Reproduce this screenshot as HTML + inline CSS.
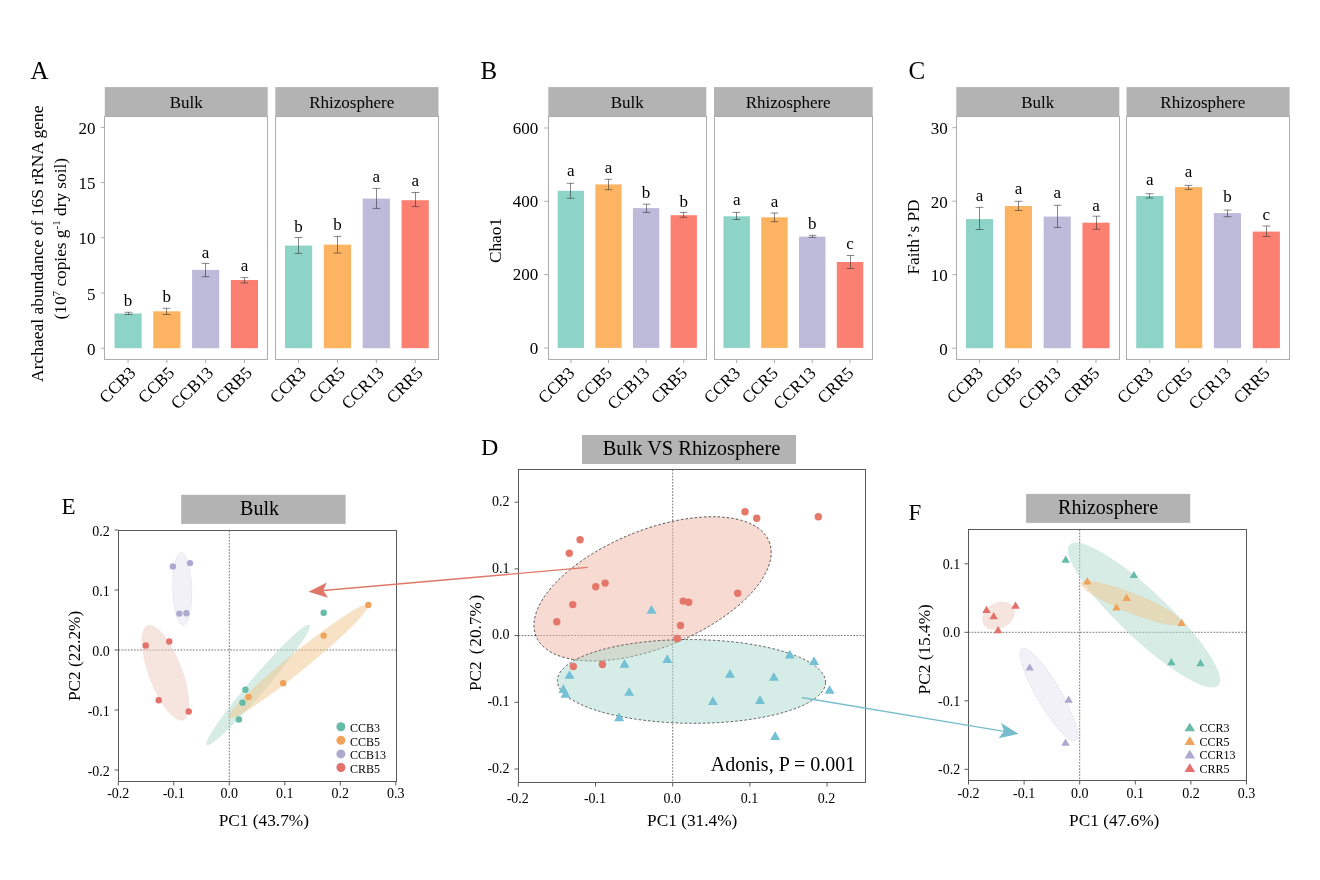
<!DOCTYPE html>
<html><head><meta charset="utf-8"><style>
html,body{margin:0;padding:0;background:#fff;}
svg{display:block;will-change:transform;}
text{font-family:"Liberation Serif",serif;}
</style></head><body>
<svg width="1320" height="880" viewBox="0 0 1320 880">
<rect width="1320" height="880" fill="#fff"/>
<rect x="104.80" y="87.1" width="162.90" height="29.60" fill="#B3B3B3"/>
<text x="186.25" y="107.90" font-size="17" text-anchor="middle" fill="#000" >Bulk</text>
<rect x="104.50" y="116.5" width="163.00" height="243.0" fill="#fff" stroke="#ADADAD" stroke-width="1"/>
<rect x="114.50" y="313.50" width="27.15" height="34.70" fill="#8DD3C7"/>
<path d="M124.62 312.30H132.38M128.50 312.30V314.50M124.62 314.50H132.38" stroke="#2a2a2a" stroke-width="0.8" fill="none" stroke-opacity="0.7"/>
<text x="128.07" y="306.10" font-size="17" text-anchor="middle" fill="#000" >b</text>
<line x1="128.07" y1="359.6" x2="128.07" y2="363.1" stroke="#ADADAD" stroke-width="1"/>
<text x="0" y="0" font-size="17.2" text-anchor="end" transform="translate(136.67,373.80) rotate(-45)">CCB3</text>
<rect x="153.28" y="311.30" width="27.15" height="36.90" fill="#FDB462"/>
<path d="M162.62 308.30H170.38M166.50 308.30V314.50M162.62 314.50H170.38" stroke="#2a2a2a" stroke-width="0.8" fill="none" stroke-opacity="0.7"/>
<text x="166.86" y="302.40" font-size="17" text-anchor="middle" fill="#000" >b</text>
<line x1="166.86" y1="359.6" x2="166.86" y2="363.1" stroke="#ADADAD" stroke-width="1"/>
<text x="0" y="0" font-size="17.2" text-anchor="end" transform="translate(175.46,373.80) rotate(-45)">CCB5</text>
<rect x="192.07" y="269.90" width="27.15" height="78.30" fill="#BEBADA"/>
<path d="M201.62 263.40H209.38M205.50 263.40V276.70M201.62 276.70H209.38" stroke="#2a2a2a" stroke-width="0.8" fill="none" stroke-opacity="0.7"/>
<text x="205.64" y="258.10" font-size="17" text-anchor="middle" fill="#000" >a</text>
<line x1="205.64" y1="359.6" x2="205.64" y2="363.1" stroke="#ADADAD" stroke-width="1"/>
<text x="0" y="0" font-size="17.2" text-anchor="end" transform="translate(214.24,373.80) rotate(-45)">CCB13</text>
<rect x="230.85" y="280.00" width="27.15" height="68.20" fill="#FB8072"/>
<path d="M240.62 277.60H248.38M244.50 277.60V282.90M240.62 282.90H248.38" stroke="#2a2a2a" stroke-width="0.8" fill="none" stroke-opacity="0.7"/>
<text x="244.43" y="270.60" font-size="17" text-anchor="middle" fill="#000" >a</text>
<line x1="244.43" y1="359.6" x2="244.43" y2="363.1" stroke="#ADADAD" stroke-width="1"/>
<text x="0" y="0" font-size="17.2" text-anchor="end" transform="translate(253.03,373.80) rotate(-45)">CRB5</text>
<line x1="100.80" y1="348.20" x2="104.80" y2="348.20" stroke="#ADADAD" stroke-width="1"/>
<text x="95.50" y="354.80" font-size="17" text-anchor="end" fill="#000" >0</text>
<line x1="100.80" y1="293.00" x2="104.80" y2="293.00" stroke="#ADADAD" stroke-width="1"/>
<text x="95.50" y="299.60" font-size="17" text-anchor="end" fill="#000" >5</text>
<line x1="100.80" y1="237.80" x2="104.80" y2="237.80" stroke="#ADADAD" stroke-width="1"/>
<text x="95.50" y="244.40" font-size="17" text-anchor="end" fill="#000" >10</text>
<line x1="100.80" y1="182.60" x2="104.80" y2="182.60" stroke="#ADADAD" stroke-width="1"/>
<text x="95.50" y="189.20" font-size="17" text-anchor="end" fill="#000" >15</text>
<line x1="100.80" y1="127.40" x2="104.80" y2="127.40" stroke="#ADADAD" stroke-width="1"/>
<text x="95.50" y="134.00" font-size="17" text-anchor="end" fill="#000" >20</text>
<rect x="275.30" y="87.1" width="163.20" height="29.60" fill="#B3B3B3"/>
<text x="351.70" y="107.90" font-size="17" text-anchor="middle" fill="#000" >Rhizosphere</text>
<rect x="275.50" y="116.5" width="163.00" height="243.0" fill="#fff" stroke="#ADADAD" stroke-width="1"/>
<rect x="285.01" y="245.60" width="27.20" height="102.60" fill="#8DD3C7"/>
<path d="M294.61 237.50H302.39M298.50 237.50V253.40M294.61 253.40H302.39" stroke="#2a2a2a" stroke-width="0.8" fill="none" stroke-opacity="0.7"/>
<text x="298.61" y="231.60" font-size="17" text-anchor="middle" fill="#000" >b</text>
<line x1="298.61" y1="359.6" x2="298.61" y2="363.1" stroke="#ADADAD" stroke-width="1"/>
<text x="0" y="0" font-size="17.2" text-anchor="end" transform="translate(307.21,373.80) rotate(-45)">CCR3</text>
<rect x="323.87" y="244.60" width="27.20" height="103.60" fill="#FDB462"/>
<path d="M333.61 236.40H341.39M337.50 236.40V253.00M333.61 253.00H341.39" stroke="#2a2a2a" stroke-width="0.8" fill="none" stroke-opacity="0.7"/>
<text x="337.47" y="230.20" font-size="17" text-anchor="middle" fill="#000" >b</text>
<line x1="337.47" y1="359.6" x2="337.47" y2="363.1" stroke="#ADADAD" stroke-width="1"/>
<text x="0" y="0" font-size="17.2" text-anchor="end" transform="translate(346.07,373.80) rotate(-45)">CCR5</text>
<rect x="362.73" y="198.60" width="27.20" height="149.60" fill="#BEBADA"/>
<path d="M372.61 188.40H380.39M376.50 188.40V208.40M372.61 208.40H380.39" stroke="#2a2a2a" stroke-width="0.8" fill="none" stroke-opacity="0.7"/>
<text x="376.33" y="181.80" font-size="17" text-anchor="middle" fill="#000" >a</text>
<line x1="376.33" y1="359.6" x2="376.33" y2="363.1" stroke="#ADADAD" stroke-width="1"/>
<text x="0" y="0" font-size="17.2" text-anchor="end" transform="translate(384.93,373.80) rotate(-45)">CCR13</text>
<rect x="401.59" y="200.20" width="27.20" height="148.00" fill="#FB8072"/>
<path d="M411.61 192.50H419.39M415.50 192.50V206.60M411.61 206.60H419.39" stroke="#2a2a2a" stroke-width="0.8" fill="none" stroke-opacity="0.7"/>
<text x="415.19" y="185.60" font-size="17" text-anchor="middle" fill="#000" >a</text>
<line x1="415.19" y1="359.6" x2="415.19" y2="363.1" stroke="#ADADAD" stroke-width="1"/>
<text x="0" y="0" font-size="17.2" text-anchor="end" transform="translate(423.79,373.80) rotate(-45)">CRR5</text>
<rect x="548.30" y="87.1" width="158.00" height="29.60" fill="#B3B3B3"/>
<text x="627.30" y="107.90" font-size="17" text-anchor="middle" fill="#000" >Bulk</text>
<rect x="548.50" y="116.5" width="158.00" height="243.0" fill="#fff" stroke="#ADADAD" stroke-width="1"/>
<rect x="557.70" y="190.80" width="26.33" height="157.10" fill="#8DD3C7"/>
<path d="M566.74 183.30H574.26M570.50 183.30V198.30M566.74 198.30H574.26" stroke="#2a2a2a" stroke-width="0.8" fill="none" stroke-opacity="0.7"/>
<text x="570.87" y="176.20" font-size="17" text-anchor="middle" fill="#000" >a</text>
<line x1="570.87" y1="359.6" x2="570.87" y2="363.1" stroke="#ADADAD" stroke-width="1"/>
<text x="0" y="0" font-size="17.2" text-anchor="end" transform="translate(575.47,374.10) rotate(-45)">CCB3</text>
<rect x="595.32" y="184.40" width="26.33" height="163.50" fill="#FDB462"/>
<path d="M604.74 179.30H612.26M608.50 179.30V189.70M604.74 189.70H612.26" stroke="#2a2a2a" stroke-width="0.8" fill="none" stroke-opacity="0.7"/>
<text x="608.49" y="172.80" font-size="17" text-anchor="middle" fill="#000" >a</text>
<line x1="608.49" y1="359.6" x2="608.49" y2="363.1" stroke="#ADADAD" stroke-width="1"/>
<text x="0" y="0" font-size="17.2" text-anchor="end" transform="translate(613.09,374.10) rotate(-45)">CCB5</text>
<rect x="632.94" y="208.10" width="26.33" height="139.80" fill="#BEBADA"/>
<path d="M642.74 204.20H650.26M646.50 204.20V212.40M642.74 212.40H650.26" stroke="#2a2a2a" stroke-width="0.8" fill="none" stroke-opacity="0.7"/>
<text x="646.11" y="198.30" font-size="17" text-anchor="middle" fill="#000" >b</text>
<line x1="646.11" y1="359.6" x2="646.11" y2="363.1" stroke="#ADADAD" stroke-width="1"/>
<text x="0" y="0" font-size="17.2" text-anchor="end" transform="translate(650.71,374.10) rotate(-45)">CCB13</text>
<rect x="670.56" y="215.20" width="26.33" height="132.70" fill="#FB8072"/>
<path d="M679.74 212.40H687.26M683.50 212.40V217.30M679.74 217.30H687.26" stroke="#2a2a2a" stroke-width="0.8" fill="none" stroke-opacity="0.7"/>
<text x="683.73" y="207.00" font-size="17" text-anchor="middle" fill="#000" >b</text>
<line x1="683.73" y1="359.6" x2="683.73" y2="363.1" stroke="#ADADAD" stroke-width="1"/>
<text x="0" y="0" font-size="17.2" text-anchor="end" transform="translate(688.33,374.10) rotate(-45)">CRB5</text>
<line x1="544.30" y1="347.90" x2="548.30" y2="347.90" stroke="#ADADAD" stroke-width="1"/>
<text x="538.20" y="353.70" font-size="17" text-anchor="end" fill="#000" >0</text>
<line x1="544.30" y1="274.60" x2="548.30" y2="274.60" stroke="#ADADAD" stroke-width="1"/>
<text x="538.20" y="280.40" font-size="17" text-anchor="end" fill="#000" >200</text>
<line x1="544.30" y1="201.30" x2="548.30" y2="201.30" stroke="#ADADAD" stroke-width="1"/>
<text x="538.20" y="207.10" font-size="17" text-anchor="end" fill="#000" >400</text>
<line x1="544.30" y1="128.00" x2="548.30" y2="128.00" stroke="#ADADAD" stroke-width="1"/>
<text x="538.20" y="133.80" font-size="17" text-anchor="end" fill="#000" >600</text>
<rect x="714.00" y="87.1" width="158.70" height="29.60" fill="#B3B3B3"/>
<text x="788.15" y="107.90" font-size="17" text-anchor="middle" fill="#000" >Rhizosphere</text>
<rect x="714.50" y="116.5" width="158.00" height="243.0" fill="#fff" stroke="#ADADAD" stroke-width="1"/>
<rect x="723.45" y="216.30" width="26.45" height="131.60" fill="#8DD3C7"/>
<path d="M732.72 212.40H740.28M736.50 212.40V219.50M732.72 219.50H740.28" stroke="#2a2a2a" stroke-width="0.8" fill="none" stroke-opacity="0.7"/>
<text x="736.67" y="204.80" font-size="17" text-anchor="middle" fill="#000" >a</text>
<line x1="736.67" y1="359.6" x2="736.67" y2="363.1" stroke="#ADADAD" stroke-width="1"/>
<text x="0" y="0" font-size="17.2" text-anchor="end" transform="translate(741.27,374.10) rotate(-45)">CCR3</text>
<rect x="761.23" y="217.30" width="26.45" height="130.60" fill="#FDB462"/>
<path d="M770.72 213.00H778.28M774.50 213.00V221.70M770.72 221.70H778.28" stroke="#2a2a2a" stroke-width="0.8" fill="none" stroke-opacity="0.7"/>
<text x="774.46" y="207.40" font-size="17" text-anchor="middle" fill="#000" >a</text>
<line x1="774.46" y1="359.6" x2="774.46" y2="363.1" stroke="#ADADAD" stroke-width="1"/>
<text x="0" y="0" font-size="17.2" text-anchor="end" transform="translate(779.06,374.10) rotate(-45)">CCR5</text>
<rect x="799.02" y="236.60" width="26.45" height="111.30" fill="#BEBADA"/>
<path d="M808.72 235.30H816.28M812.50 235.30V237.40M808.72 237.40H816.28" stroke="#2a2a2a" stroke-width="0.8" fill="none" stroke-opacity="0.7"/>
<text x="812.24" y="229.00" font-size="17" text-anchor="middle" fill="#000" >b</text>
<line x1="812.24" y1="359.6" x2="812.24" y2="363.1" stroke="#ADADAD" stroke-width="1"/>
<text x="0" y="0" font-size="17.2" text-anchor="end" transform="translate(816.84,374.10) rotate(-45)">CCR13</text>
<rect x="836.80" y="262.00" width="26.45" height="85.90" fill="#FB8072"/>
<path d="M846.72 255.50H854.28M850.50 255.50V268.50M846.72 268.50H854.28" stroke="#2a2a2a" stroke-width="0.8" fill="none" stroke-opacity="0.7"/>
<text x="850.03" y="248.60" font-size="17" text-anchor="middle" fill="#000" >c</text>
<line x1="850.03" y1="359.6" x2="850.03" y2="363.1" stroke="#ADADAD" stroke-width="1"/>
<text x="0" y="0" font-size="17.2" text-anchor="end" transform="translate(854.63,374.10) rotate(-45)">CRR5</text>
<rect x="956.30" y="87.1" width="163.00" height="29.60" fill="#B3B3B3"/>
<text x="1037.80" y="107.90" font-size="17" text-anchor="middle" fill="#000" >Bulk</text>
<rect x="956.50" y="116.5" width="163.00" height="243.0" fill="#fff" stroke="#ADADAD" stroke-width="1"/>
<rect x="966.00" y="219.10" width="27.17" height="129.10" fill="#8DD3C7"/>
<path d="M975.62 207.40H983.38M979.50 207.40V229.50M975.62 229.50H983.38" stroke="#2a2a2a" stroke-width="0.8" fill="none" stroke-opacity="0.7"/>
<text x="979.59" y="200.50" font-size="17" text-anchor="middle" fill="#000" >a</text>
<line x1="979.59" y1="359.6" x2="979.59" y2="363.1" stroke="#ADADAD" stroke-width="1"/>
<text x="0" y="0" font-size="17.2" text-anchor="end" transform="translate(984.19,374.10) rotate(-45)">CCB3</text>
<rect x="1004.81" y="206.00" width="27.17" height="142.20" fill="#FDB462"/>
<path d="M1014.62 201.30H1022.38M1018.50 201.30V210.50M1014.62 210.50H1022.38" stroke="#2a2a2a" stroke-width="0.8" fill="none" stroke-opacity="0.7"/>
<text x="1018.40" y="194.40" font-size="17" text-anchor="middle" fill="#000" >a</text>
<line x1="1018.40" y1="359.6" x2="1018.40" y2="363.1" stroke="#ADADAD" stroke-width="1"/>
<text x="0" y="0" font-size="17.2" text-anchor="end" transform="translate(1023.00,374.10) rotate(-45)">CCB5</text>
<rect x="1043.62" y="216.60" width="27.17" height="131.60" fill="#BEBADA"/>
<path d="M1053.62 205.30H1061.38M1057.50 205.30V227.40M1053.62 227.40H1061.38" stroke="#2a2a2a" stroke-width="0.8" fill="none" stroke-opacity="0.7"/>
<text x="1057.20" y="197.90" font-size="17" text-anchor="middle" fill="#000" >a</text>
<line x1="1057.20" y1="359.6" x2="1057.20" y2="363.1" stroke="#ADADAD" stroke-width="1"/>
<text x="0" y="0" font-size="17.2" text-anchor="end" transform="translate(1061.80,374.10) rotate(-45)">CCB13</text>
<rect x="1082.43" y="222.70" width="27.17" height="125.50" fill="#FB8072"/>
<path d="M1092.62 216.20H1100.38M1096.50 216.20V229.30M1092.62 229.30H1100.38" stroke="#2a2a2a" stroke-width="0.8" fill="none" stroke-opacity="0.7"/>
<text x="1096.01" y="211.10" font-size="17" text-anchor="middle" fill="#000" >a</text>
<line x1="1096.01" y1="359.6" x2="1096.01" y2="363.1" stroke="#ADADAD" stroke-width="1"/>
<text x="0" y="0" font-size="17.2" text-anchor="end" transform="translate(1100.61,374.10) rotate(-45)">CRB5</text>
<line x1="952.30" y1="348.20" x2="956.30" y2="348.20" stroke="#ADADAD" stroke-width="1"/>
<text x="947.70" y="354.80" font-size="17" text-anchor="end" fill="#000" >0</text>
<line x1="952.30" y1="274.70" x2="956.30" y2="274.70" stroke="#ADADAD" stroke-width="1"/>
<text x="947.70" y="281.30" font-size="17" text-anchor="end" fill="#000" >10</text>
<line x1="952.30" y1="201.20" x2="956.30" y2="201.20" stroke="#ADADAD" stroke-width="1"/>
<text x="947.70" y="207.80" font-size="17" text-anchor="end" fill="#000" >20</text>
<line x1="952.30" y1="127.70" x2="956.30" y2="127.70" stroke="#ADADAD" stroke-width="1"/>
<text x="947.70" y="134.30" font-size="17" text-anchor="end" fill="#000" >30</text>
<rect x="1126.50" y="87.1" width="163.10" height="29.60" fill="#B3B3B3"/>
<text x="1202.85" y="107.90" font-size="17" text-anchor="middle" fill="#000" >Rhizosphere</text>
<rect x="1126.50" y="116.5" width="163.00" height="243.0" fill="#fff" stroke="#ADADAD" stroke-width="1"/>
<rect x="1136.21" y="196.00" width="27.18" height="152.20" fill="#8DD3C7"/>
<path d="M1145.62 193.70H1153.38M1149.50 193.70V198.00M1145.62 198.00H1153.38" stroke="#2a2a2a" stroke-width="0.8" fill="none" stroke-opacity="0.7"/>
<text x="1149.80" y="184.80" font-size="17" text-anchor="middle" fill="#000" >a</text>
<line x1="1149.80" y1="359.6" x2="1149.80" y2="363.1" stroke="#ADADAD" stroke-width="1"/>
<text x="0" y="0" font-size="17.2" text-anchor="end" transform="translate(1154.40,374.10) rotate(-45)">CCR3</text>
<rect x="1175.04" y="187.10" width="27.18" height="161.10" fill="#FDB462"/>
<path d="M1184.62 185.40H1192.38M1188.50 185.40V189.40M1184.62 189.40H1192.38" stroke="#2a2a2a" stroke-width="0.8" fill="none" stroke-opacity="0.7"/>
<text x="1188.63" y="177.20" font-size="17" text-anchor="middle" fill="#000" >a</text>
<line x1="1188.63" y1="359.6" x2="1188.63" y2="363.1" stroke="#ADADAD" stroke-width="1"/>
<text x="0" y="0" font-size="17.2" text-anchor="end" transform="translate(1193.23,374.10) rotate(-45)">CCR5</text>
<rect x="1213.88" y="213.10" width="27.18" height="135.10" fill="#BEBADA"/>
<path d="M1223.62 210.10H1231.38M1227.50 210.10V216.70M1223.62 216.70H1231.38" stroke="#2a2a2a" stroke-width="0.8" fill="none" stroke-opacity="0.7"/>
<text x="1227.47" y="201.90" font-size="17" text-anchor="middle" fill="#000" >b</text>
<line x1="1227.47" y1="359.6" x2="1227.47" y2="363.1" stroke="#ADADAD" stroke-width="1"/>
<text x="0" y="0" font-size="17.2" text-anchor="end" transform="translate(1232.07,374.10) rotate(-45)">CCR13</text>
<rect x="1252.71" y="231.60" width="27.18" height="116.60" fill="#FB8072"/>
<path d="M1262.62 226.00H1270.38M1266.50 226.00V236.50M1262.62 236.50H1270.38" stroke="#2a2a2a" stroke-width="0.8" fill="none" stroke-opacity="0.7"/>
<text x="1266.30" y="220.00" font-size="17" text-anchor="middle" fill="#000" >c</text>
<line x1="1266.30" y1="359.6" x2="1266.30" y2="363.1" stroke="#ADADAD" stroke-width="1"/>
<text x="0" y="0" font-size="17.2" text-anchor="end" transform="translate(1270.90,374.10) rotate(-45)">CRR5</text>
<text x="30.50" y="78.90" font-size="25" text-anchor="start" fill="#000" >A</text>
<text x="480.50" y="78.70" font-size="25" text-anchor="start" fill="#000" >B</text>
<text x="908.50" y="78.70" font-size="25" text-anchor="start" fill="#000" >C</text>
<text font-size="17.5" text-anchor="middle" transform="translate(43.2,243.7) rotate(-90)">Archaeal abundance of 16S rRNA gene</text>
<text font-size="17.3" text-anchor="middle" transform="translate(66.0,238.7) rotate(-90)">(10<tspan font-size="11" dy="-6">7</tspan><tspan dy="6"> copies g</tspan><tspan font-size="11" dy="-6">-1</tspan><tspan dy="6"> dry soil)</tspan></text>
<text font-size="17.3" text-anchor="middle" transform="translate(501.2,240.5) rotate(-90)">Chao1</text>
<text font-size="17.3" text-anchor="middle" transform="translate(919.0,237.0) rotate(-90)">Faith<tspan dx="0.8">’</tspan><tspan dx="0.8">s PD</tspan></text>
<rect x="582" y="435" width="214" height="29" fill="#B3B3B3"/>
<text x="691.50" y="455.00" font-size="20.4" text-anchor="middle" fill="#000" >Bulk VS Rhizosphere</text>
<text x="481.00" y="455.00" font-size="24" text-anchor="start" fill="#000" >D</text>
<line x1="672.7" y1="469.5" x2="672.7" y2="782.5" stroke="#666" stroke-width="0.9" stroke-dasharray="1.7 1.4"/>
<line x1="518.5" y1="635.5" x2="865.5" y2="635.5" stroke="#666" stroke-width="0.9" stroke-dasharray="1.7 1.4"/>
<ellipse cx="0" cy="0" rx="125.78" ry="58.7" fill="#EFB5A5" fill-opacity="0.5" stroke="#333" stroke-opacity="1" stroke-width="0.75" stroke-dasharray="2.6 2" transform="translate(652.6,588.86) rotate(-22.13)"/>
<ellipse cx="0" cy="0" rx="134.1" ry="41.86" fill="#ADD9CD" fill-opacity="0.5" stroke="#333" stroke-opacity="1" stroke-width="0.75" stroke-dasharray="2.6 2" transform="translate(691.47,681.43) rotate(0.38)"/>
<circle cx="580.10" cy="539.70" r="3.7" fill="#E5776A"/>
<circle cx="569.30" cy="553.20" r="3.7" fill="#E5776A"/>
<circle cx="595.70" cy="586.80" r="3.7" fill="#E5776A"/>
<circle cx="605.10" cy="583.10" r="3.7" fill="#E5776A"/>
<circle cx="572.80" cy="604.60" r="3.7" fill="#E5776A"/>
<circle cx="556.80" cy="621.80" r="3.7" fill="#E5776A"/>
<circle cx="683.20" cy="601.10" r="3.7" fill="#E5776A"/>
<circle cx="688.70" cy="602.20" r="3.7" fill="#E5776A"/>
<circle cx="680.50" cy="625.40" r="3.7" fill="#E5776A"/>
<circle cx="677.30" cy="638.50" r="3.7" fill="#E5776A"/>
<circle cx="573.30" cy="666.50" r="3.7" fill="#E5776A"/>
<circle cx="602.40" cy="664.50" r="3.7" fill="#E5776A"/>
<circle cx="745.00" cy="511.70" r="3.7" fill="#E5776A"/>
<circle cx="756.70" cy="518.30" r="3.7" fill="#E5776A"/>
<circle cx="818.30" cy="516.70" r="3.7" fill="#E5776A"/>
<circle cx="737.70" cy="593.20" r="3.7" fill="#E5776A"/>
<path d="M651.50 604.95L656.50 613.65L646.50 613.65Z" fill="#74C0D5"/>
<path d="M624.50 658.95L629.50 667.65L619.50 667.65Z" fill="#74C0D5"/>
<path d="M667.30 654.35L672.30 663.05L662.30 663.05Z" fill="#74C0D5"/>
<path d="M569.50 670.15L574.50 678.85L564.50 678.85Z" fill="#74C0D5"/>
<path d="M563.30 684.35L568.30 693.05L558.30 693.05Z" fill="#74C0D5"/>
<path d="M565.50 688.95L570.50 697.65L560.50 697.65Z" fill="#74C0D5"/>
<path d="M629.10 687.15L634.10 695.85L624.10 695.85Z" fill="#74C0D5"/>
<path d="M619.10 712.55L624.10 721.25L614.10 721.25Z" fill="#74C0D5"/>
<path d="M789.80 649.85L794.80 658.55L784.80 658.55Z" fill="#74C0D5"/>
<path d="M814.00 656.25L819.00 664.95L809.00 664.95Z" fill="#74C0D5"/>
<path d="M730.00 668.95L735.00 677.65L725.00 677.65Z" fill="#74C0D5"/>
<path d="M773.90 672.15L778.90 680.85L768.90 680.85Z" fill="#74C0D5"/>
<path d="M829.60 685.15L834.60 693.85L824.60 693.85Z" fill="#74C0D5"/>
<path d="M712.90 696.35L717.90 705.05L707.90 705.05Z" fill="#74C0D5"/>
<path d="M760.00 695.25L765.00 703.95L755.00 703.95Z" fill="#74C0D5"/>
<path d="M775.20 731.35L780.20 740.05L770.20 740.05Z" fill="#74C0D5"/>
<rect x="518.5" y="469.5" width="347.0" height="313.0" fill="none" stroke="#5a5a5a" stroke-width="1"/>
<line x1="518.30" y1="782.5" x2="518.30" y2="786.5" stroke="#5a5a5a" stroke-width="1"/>
<text x="517.80" y="803.00" font-size="14" text-anchor="middle" fill="#000" >-0.2</text>
<line x1="595.50" y1="782.5" x2="595.50" y2="786.5" stroke="#5a5a5a" stroke-width="1"/>
<text x="595.00" y="803.00" font-size="14" text-anchor="middle" fill="#000" >-0.1</text>
<line x1="672.70" y1="782.5" x2="672.70" y2="786.5" stroke="#5a5a5a" stroke-width="1"/>
<text x="672.20" y="803.00" font-size="14" text-anchor="middle" fill="#000" >0.0</text>
<line x1="749.90" y1="782.5" x2="749.90" y2="786.5" stroke="#5a5a5a" stroke-width="1"/>
<text x="749.40" y="803.00" font-size="14" text-anchor="middle" fill="#000" >0.1</text>
<line x1="827.10" y1="782.5" x2="827.10" y2="786.5" stroke="#5a5a5a" stroke-width="1"/>
<text x="826.60" y="803.00" font-size="14" text-anchor="middle" fill="#000" >0.2</text>
<line x1="514.5" y1="769.00" x2="518.5" y2="769.00" stroke="#5a5a5a" stroke-width="1"/>
<text x="509.60" y="772.80" font-size="14" text-anchor="end" fill="#000" >-0.2</text>
<line x1="514.5" y1="702.30" x2="518.5" y2="702.30" stroke="#5a5a5a" stroke-width="1"/>
<text x="509.60" y="706.10" font-size="14" text-anchor="end" fill="#000" >-0.1</text>
<line x1="514.5" y1="635.60" x2="518.5" y2="635.60" stroke="#5a5a5a" stroke-width="1"/>
<text x="509.60" y="639.40" font-size="14" text-anchor="end" fill="#000" >0.0</text>
<line x1="514.5" y1="568.90" x2="518.5" y2="568.90" stroke="#5a5a5a" stroke-width="1"/>
<text x="509.60" y="572.70" font-size="14" text-anchor="end" fill="#000" >0.1</text>
<line x1="514.5" y1="502.20" x2="518.5" y2="502.20" stroke="#5a5a5a" stroke-width="1"/>
<text x="509.60" y="506.00" font-size="14" text-anchor="end" fill="#000" >0.2</text>
<text x="855.30" y="770.70" font-size="20" text-anchor="end" fill="#000" >Adonis, P = 0.001</text>
<text x="692.20" y="825.60" font-size="17.3" text-anchor="middle" fill="#000" >PC1 (31.4%)</text>
<text font-size="17.2" text-anchor="start" transform="translate(481.4,691.0) rotate(-90)">PC2<tspan dx="7.2">(</tspan><tspan dx="1.8">20.7%</tspan><tspan dx="1.8">)</tspan></text>
<rect x="181.2" y="494.8" width="164.4" height="29.1" fill="#B3B3B3"/>
<text x="259.50" y="514.80" font-size="20" text-anchor="middle" fill="#000" >Bulk</text>
<text x="61.50" y="513.60" font-size="23" text-anchor="start" fill="#000" >E</text>
<line x1="229.3" y1="530.5" x2="229.3" y2="781.5" stroke="#666" stroke-width="0.9" stroke-dasharray="1.7 1.4"/>
<line x1="118.5" y1="650" x2="396.5" y2="650" stroke="#666" stroke-width="0.9" stroke-dasharray="1.7 1.4"/>
<ellipse cx="0" cy="0" rx="9.5" ry="36.4" fill="#E5E3F1" fill-opacity="0.5" stroke="#BDBBD0" stroke-opacity="0.55" stroke-width="0.7" stroke-dasharray="2 1.5" transform="translate(182.2,588.9) rotate(-1.5)"/>
<ellipse cx="0" cy="0" rx="50.54" ry="16.61" fill="#EDC9BF" fill-opacity="0.5" stroke="#E3706A" stroke-opacity="0.12" stroke-width="0.7" stroke-dasharray="2 1.5" transform="translate(165.44,672.67) rotate(69.39)"/>
<ellipse cx="0" cy="0" rx="78.83" ry="8.18" fill="#ADDACB" fill-opacity="0.5" stroke="#66BBA8" stroke-opacity="0.12" stroke-width="0.7" stroke-dasharray="2 1.5" transform="translate(258.05,684.96) rotate(-49.44)"/>
<ellipse cx="0" cy="0" rx="89.47" ry="9.2" fill="#F1C58D" fill-opacity="0.5" stroke="#EEA25A" stroke-opacity="0.12" stroke-width="0.7" stroke-dasharray="2 1.5" transform="translate(298.27,661.57) rotate(-39.04)"/>
<circle cx="323.70" cy="612.70" r="3.2" fill="#66BBA8"/>
<circle cx="245.40" cy="689.80" r="3.2" fill="#66BBA8"/>
<circle cx="242.50" cy="702.70" r="3.2" fill="#66BBA8"/>
<circle cx="238.90" cy="719.50" r="3.2" fill="#66BBA8"/>
<circle cx="368.30" cy="605.00" r="3.2" fill="#EEA25A"/>
<circle cx="323.70" cy="635.60" r="3.2" fill="#EEA25A"/>
<circle cx="283.20" cy="683.30" r="3.2" fill="#EEA25A"/>
<circle cx="248.50" cy="697.00" r="3.2" fill="#EEA25A"/>
<circle cx="172.90" cy="566.50" r="3.2" fill="#ADA9CF"/>
<circle cx="190.00" cy="563.10" r="3.2" fill="#ADA9CF"/>
<circle cx="179.30" cy="613.60" r="3.2" fill="#ADA9CF"/>
<circle cx="186.40" cy="613.30" r="3.2" fill="#ADA9CF"/>
<circle cx="145.75" cy="645.50" r="3.2" fill="#E3706A"/>
<circle cx="169.25" cy="641.50" r="3.2" fill="#E3706A"/>
<circle cx="158.75" cy="700.25" r="3.2" fill="#E3706A"/>
<circle cx="188.75" cy="711.50" r="3.2" fill="#E3706A"/>
<rect x="118.5" y="530.5" width="278.0" height="251.0" fill="none" stroke="#5a5a5a" stroke-width="1"/>
<line x1="118.30" y1="781.5" x2="118.30" y2="785.5" stroke="#5a5a5a" stroke-width="1"/>
<text x="118.30" y="797.80" font-size="14" text-anchor="middle" fill="#000" >-0.2</text>
<line x1="173.80" y1="781.5" x2="173.80" y2="785.5" stroke="#5a5a5a" stroke-width="1"/>
<text x="173.80" y="797.80" font-size="14" text-anchor="middle" fill="#000" >-0.1</text>
<line x1="229.30" y1="781.5" x2="229.30" y2="785.5" stroke="#5a5a5a" stroke-width="1"/>
<text x="229.30" y="797.80" font-size="14" text-anchor="middle" fill="#000" >0.0</text>
<line x1="284.80" y1="781.5" x2="284.80" y2="785.5" stroke="#5a5a5a" stroke-width="1"/>
<text x="284.80" y="797.80" font-size="14" text-anchor="middle" fill="#000" >0.1</text>
<line x1="340.30" y1="781.5" x2="340.30" y2="785.5" stroke="#5a5a5a" stroke-width="1"/>
<text x="340.30" y="797.80" font-size="14" text-anchor="middle" fill="#000" >0.2</text>
<line x1="395.80" y1="781.5" x2="395.80" y2="785.5" stroke="#5a5a5a" stroke-width="1"/>
<text x="395.80" y="797.80" font-size="14" text-anchor="middle" fill="#000" >0.3</text>
<line x1="114.5" y1="770.00" x2="118.5" y2="770.00" stroke="#5a5a5a" stroke-width="1"/>
<text x="109.80" y="775.50" font-size="14" text-anchor="end" fill="#000" >-0.2</text>
<line x1="114.5" y1="710.00" x2="118.5" y2="710.00" stroke="#5a5a5a" stroke-width="1"/>
<text x="109.80" y="715.50" font-size="14" text-anchor="end" fill="#000" >-0.1</text>
<line x1="114.5" y1="650.00" x2="118.5" y2="650.00" stroke="#5a5a5a" stroke-width="1"/>
<text x="109.80" y="655.50" font-size="14" text-anchor="end" fill="#000" >0.0</text>
<line x1="114.5" y1="590.00" x2="118.5" y2="590.00" stroke="#5a5a5a" stroke-width="1"/>
<text x="109.80" y="595.50" font-size="14" text-anchor="end" fill="#000" >0.1</text>
<line x1="114.5" y1="530.00" x2="118.5" y2="530.00" stroke="#5a5a5a" stroke-width="1"/>
<text x="109.80" y="535.50" font-size="14" text-anchor="end" fill="#000" >0.2</text>
<circle cx="340.90" cy="726.80" r="4.5" fill="#66BBA8"/>
<text x="350.00" y="732.30" font-size="12" text-anchor="start" fill="#000" >CCB3</text>
<circle cx="340.90" cy="740.35" r="4.5" fill="#EEA25A"/>
<text x="350.00" y="745.85" font-size="12" text-anchor="start" fill="#000" >CCB5</text>
<circle cx="340.90" cy="753.90" r="4.5" fill="#ADA9CF"/>
<text x="350.00" y="759.40" font-size="12" text-anchor="start" fill="#000" >CCB13</text>
<circle cx="340.90" cy="767.45" r="4.5" fill="#E3706A"/>
<text x="350.00" y="772.95" font-size="12" text-anchor="start" fill="#000" >CRB5</text>
<text x="263.80" y="825.80" font-size="17.3" text-anchor="middle" fill="#000" >PC1 (43.7%)</text>
<text font-size="17.3" text-anchor="middle" transform="translate(79.6,655.9) rotate(-90)">PC2 (22.2%)</text>
<rect x="1026.1" y="493.9" width="164.1" height="29" fill="#B3B3B3"/>
<text x="1108.10" y="513.90" font-size="20" text-anchor="middle" fill="#000" >Rhizosphere</text>
<text x="908.50" y="519.60" font-size="23" text-anchor="start" fill="#000" >F</text>
<line x1="1079.7" y1="529.5" x2="1079.7" y2="780.5" stroke="#666" stroke-width="0.9" stroke-dasharray="1.7 1.4"/>
<line x1="968.5" y1="632.3" x2="1246.5" y2="632.3" stroke="#666" stroke-width="0.9" stroke-dasharray="1.7 1.4"/>
<ellipse cx="0" cy="0" rx="17.06" ry="12.56" fill="#EDC9BF" fill-opacity="0.5" stroke="#E3706A" stroke-opacity="0.12" stroke-width="0.7" stroke-dasharray="2 1.5" transform="translate(998.56,615.66) rotate(-29.77)"/>
<ellipse cx="0" cy="0" rx="102.22" ry="23.55" fill="#ADDACB" fill-opacity="0.5" stroke="#66BBA8" stroke-opacity="0.12" stroke-width="0.7" stroke-dasharray="2 1.5" transform="translate(1144.01,615.03) rotate(43.4)"/>
<ellipse cx="0" cy="0" rx="54.04" ry="9.79" fill="#F1C58D" fill-opacity="0.5" stroke="#EEA25A" stroke-opacity="0.12" stroke-width="0.7" stroke-dasharray="2 1.5" transform="translate(1131.18,603.03) rotate(21.83)"/>
<ellipse cx="0" cy="0" rx="53.33" ry="11.99" fill="#E5E3F1" fill-opacity="0.5" stroke="#BDBBD0" stroke-opacity="0.55" stroke-width="0.7" stroke-dasharray="2 1.5" transform="translate(1048.84,694.49) rotate(59.74)"/>
<path d="M1065.70 555.50L1069.90 562.70L1061.50 562.70Z" fill="#66BBA8"/>
<path d="M1133.90 570.90L1138.10 578.10L1129.70 578.10Z" fill="#66BBA8"/>
<path d="M1171.40 658.00L1175.60 665.20L1167.20 665.20Z" fill="#66BBA8"/>
<path d="M1200.50 659.10L1204.70 666.30L1196.30 666.30Z" fill="#66BBA8"/>
<path d="M1087.30 577.30L1091.50 584.50L1083.10 584.50Z" fill="#EEA25A"/>
<path d="M1126.60 593.70L1130.80 600.90L1122.40 600.90Z" fill="#EEA25A"/>
<path d="M1116.40 603.40L1120.60 610.60L1112.20 610.60Z" fill="#EEA25A"/>
<path d="M1181.60 618.70L1185.80 625.90L1177.40 625.90Z" fill="#EEA25A"/>
<path d="M1029.70 663.40L1033.90 670.60L1025.50 670.60Z" fill="#ADA9CF"/>
<path d="M1068.60 695.60L1072.80 702.80L1064.40 702.80Z" fill="#ADA9CF"/>
<path d="M1065.50 738.60L1069.70 745.80L1061.30 745.80Z" fill="#ADA9CF"/>
<path d="M986.50 605.80L990.70 613.00L982.30 613.00Z" fill="#E3706A"/>
<path d="M993.70 612.10L997.90 619.30L989.50 619.30Z" fill="#E3706A"/>
<path d="M1015.50 601.50L1019.70 608.70L1011.30 608.70Z" fill="#E3706A"/>
<path d="M998.10 626.00L1002.30 633.20L993.90 633.20Z" fill="#E3706A"/>
<rect x="968.5" y="529.5" width="278.0" height="251.0" fill="none" stroke="#5a5a5a" stroke-width="1"/>
<line x1="968.50" y1="780.5" x2="968.50" y2="784.5" stroke="#5a5a5a" stroke-width="1"/>
<text x="968.50" y="797.80" font-size="14" text-anchor="middle" fill="#000" >-0.2</text>
<line x1="1024.10" y1="780.5" x2="1024.10" y2="784.5" stroke="#5a5a5a" stroke-width="1"/>
<text x="1024.10" y="797.80" font-size="14" text-anchor="middle" fill="#000" >-0.1</text>
<line x1="1079.70" y1="780.5" x2="1079.70" y2="784.5" stroke="#5a5a5a" stroke-width="1"/>
<text x="1079.70" y="797.80" font-size="14" text-anchor="middle" fill="#000" >0.0</text>
<line x1="1135.30" y1="780.5" x2="1135.30" y2="784.5" stroke="#5a5a5a" stroke-width="1"/>
<text x="1135.30" y="797.80" font-size="14" text-anchor="middle" fill="#000" >0.1</text>
<line x1="1190.90" y1="780.5" x2="1190.90" y2="784.5" stroke="#5a5a5a" stroke-width="1"/>
<text x="1190.90" y="797.80" font-size="14" text-anchor="middle" fill="#000" >0.2</text>
<line x1="1246.50" y1="780.5" x2="1246.50" y2="784.5" stroke="#5a5a5a" stroke-width="1"/>
<text x="1246.50" y="797.80" font-size="14" text-anchor="middle" fill="#000" >0.3</text>
<line x1="964.5" y1="769.30" x2="968.5" y2="769.30" stroke="#5a5a5a" stroke-width="1"/>
<text x="960.20" y="774.10" font-size="14" text-anchor="end" fill="#000" >-0.2</text>
<line x1="964.5" y1="700.80" x2="968.5" y2="700.80" stroke="#5a5a5a" stroke-width="1"/>
<text x="960.20" y="705.60" font-size="14" text-anchor="end" fill="#000" >-0.1</text>
<line x1="964.5" y1="632.30" x2="968.5" y2="632.30" stroke="#5a5a5a" stroke-width="1"/>
<text x="960.20" y="637.10" font-size="14" text-anchor="end" fill="#000" >0.0</text>
<line x1="964.5" y1="563.80" x2="968.5" y2="563.80" stroke="#5a5a5a" stroke-width="1"/>
<text x="960.20" y="568.60" font-size="14" text-anchor="end" fill="#000" >0.1</text>
<path d="M1189.80 722.65L1195.05 731.35L1184.55 731.35Z" fill="#66BBA8"/>
<text x="1199.50" y="732.30" font-size="12" text-anchor="start" fill="#000" >CCR3</text>
<path d="M1189.80 736.20L1195.05 744.90L1184.55 744.90Z" fill="#EEA25A"/>
<text x="1199.50" y="745.85" font-size="12" text-anchor="start" fill="#000" >CCR5</text>
<path d="M1189.80 749.75L1195.05 758.45L1184.55 758.45Z" fill="#ADA9CF"/>
<text x="1199.50" y="759.40" font-size="12" text-anchor="start" fill="#000" >CCR13</text>
<path d="M1189.80 763.30L1195.05 772.00L1184.55 772.00Z" fill="#E3706A"/>
<text x="1199.50" y="772.95" font-size="12" text-anchor="start" fill="#000" >CRR5</text>
<text x="1114.20" y="825.80" font-size="17.3" text-anchor="middle" fill="#000" >PC1 (47.6%)</text>
<text font-size="17.3" text-anchor="middle" transform="translate(930.2,649.3) rotate(-90)">PC2 (15.4%)</text>
<line x1="587.5" y1="567.4" x2="323.26" y2="590.51" stroke="#E07868" stroke-width="1.4"/>
<path d="M308.50 591.80L326.75 582.42L323.26 590.51L328.10 597.87Z" fill="#E07868"/>
<line x1="801.7" y1="697.5" x2="1003.98" y2="731.35" stroke="#78BDCE" stroke-width="1.4"/>
<path d="M1018.60 733.80L998.58 738.31L1003.98 731.35L1001.14 723.02Z" fill="#78BDCE"/>
</svg>
</body></html>
